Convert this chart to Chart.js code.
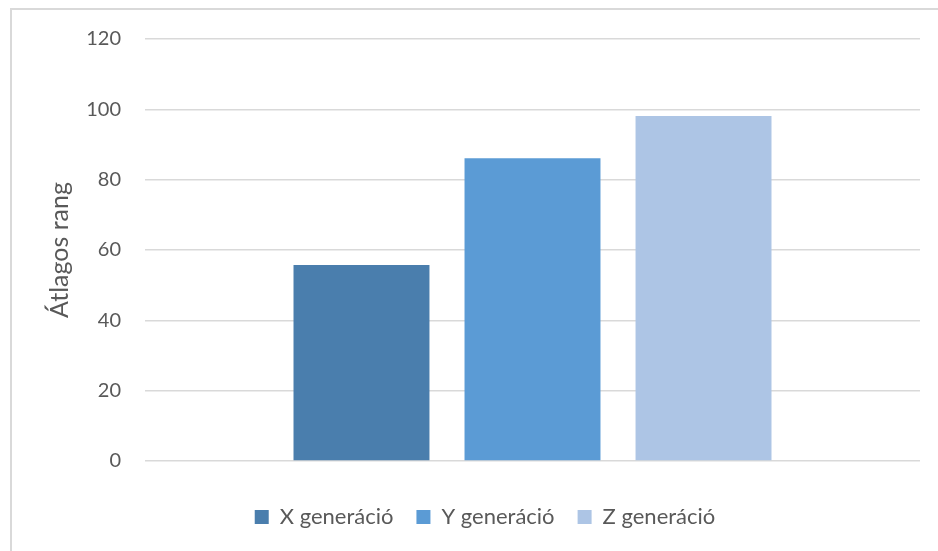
<!DOCTYPE html>
<html>
<head>
<meta charset="utf-8">
<script src="https://cdn.jsdelivr.net/npm/chart.js@4/dist/chart.umd.min.js"></script>
<style>
  html, body { margin: 0; padding: 0; background: #ffffff; overflow: hidden; }
  #wrap { position: relative; width: 938px; height: 551px; overflow: hidden; background: #ffffff; }
  #frame { position: absolute; left: 10px; top: 8px; width: 1200px; height: 1200px; border: 2px solid #d9d9d9; box-sizing: border-box; }
  #c { position: absolute; left: 0; top: 0; }
</style>
</head>
<body>
<div id="wrap">
  <div id="frame"></div>
  <canvas id="c" width="938" height="551"></canvas>
</div>
<script>
// ---- data ----
const seriesNames = ['X generáció', 'Y generáció', 'Z generáció'];
const seriesValues = [55.7, 86.1, 98.1];
const seriesColors = ['#4a7ead', '#5b9bd5', '#adc5e5'];
const categoryLabels = [''];
const yTitle = 'Átlagos rang';
const yMin = 0, yMax = 120, yStep = 20;

const FONT = 'Lato, "Open Sans", "Noto Sans", sans-serif';
const TEXT = '#595959';

const datasets = seriesNames.map((name, i) => ({
  label: name,
  data: [seriesValues[i]],
  backgroundColor: seriesColors[i],
  borderWidth: 0,
  categoryPercentage: 0.662,
  barPercentage: 0.795
}));

// The legend in the reference is centred on the whole (wider, cropped) chart
// frame rather than on the visible canvas: move the legend box to the right.
const legendShift = {
  id: 'legendShift',
  afterLayout(chart) {
    const lg = chart.legend;
    if (lg) { lg.left += 25; lg.right += 25; }
  }
};

new Chart(document.getElementById('c'), {
  type: 'bar',
  data: { labels: categoryLabels, datasets },
  plugins: [legendShift],
  options: {
    responsive: false,
    animation: false,
    devicePixelRatio: 1,
    layout: { padding: { left: 0, right: 18, top: 39, bottom: 13 } },
    plugins: {
      tooltip: { enabled: false },
      legend: {
        position: 'bottom',
        align: 'center',
        labels: {
          boxWidth: 14,
          boxHeight: 14,
          padding: 23,
          color: TEXT,
          font: { family: FONT, size: 22 }
        }
      }
    },
    scales: {
      x: {
        display: true,
        grid: { display: false, drawTicks: false },
        border: { display: false },
        ticks: { display: false },
        afterFit: (s) => { s.height = 22; }
      },
      y: {
        min: yMin,
        max: yMax,
        ticks: {
          stepSize: yStep,
          color: TEXT,
          padding: 24,
          font: { family: FONT, size: 20 }
        },
        grid: { color: '#d9d9d9', lineWidth: 1.5, drawTicks: false },
        border: { display: false },
        title: {
          display: true,
          text: yTitle,
          color: TEXT,
          font: { family: FONT, size: 25 },
          padding: { top: 45, bottom: 0 }
        },
        afterFit: (s) => { s.width = 145; }
      }
    }
  }
});
</script>
</body>
</html>
